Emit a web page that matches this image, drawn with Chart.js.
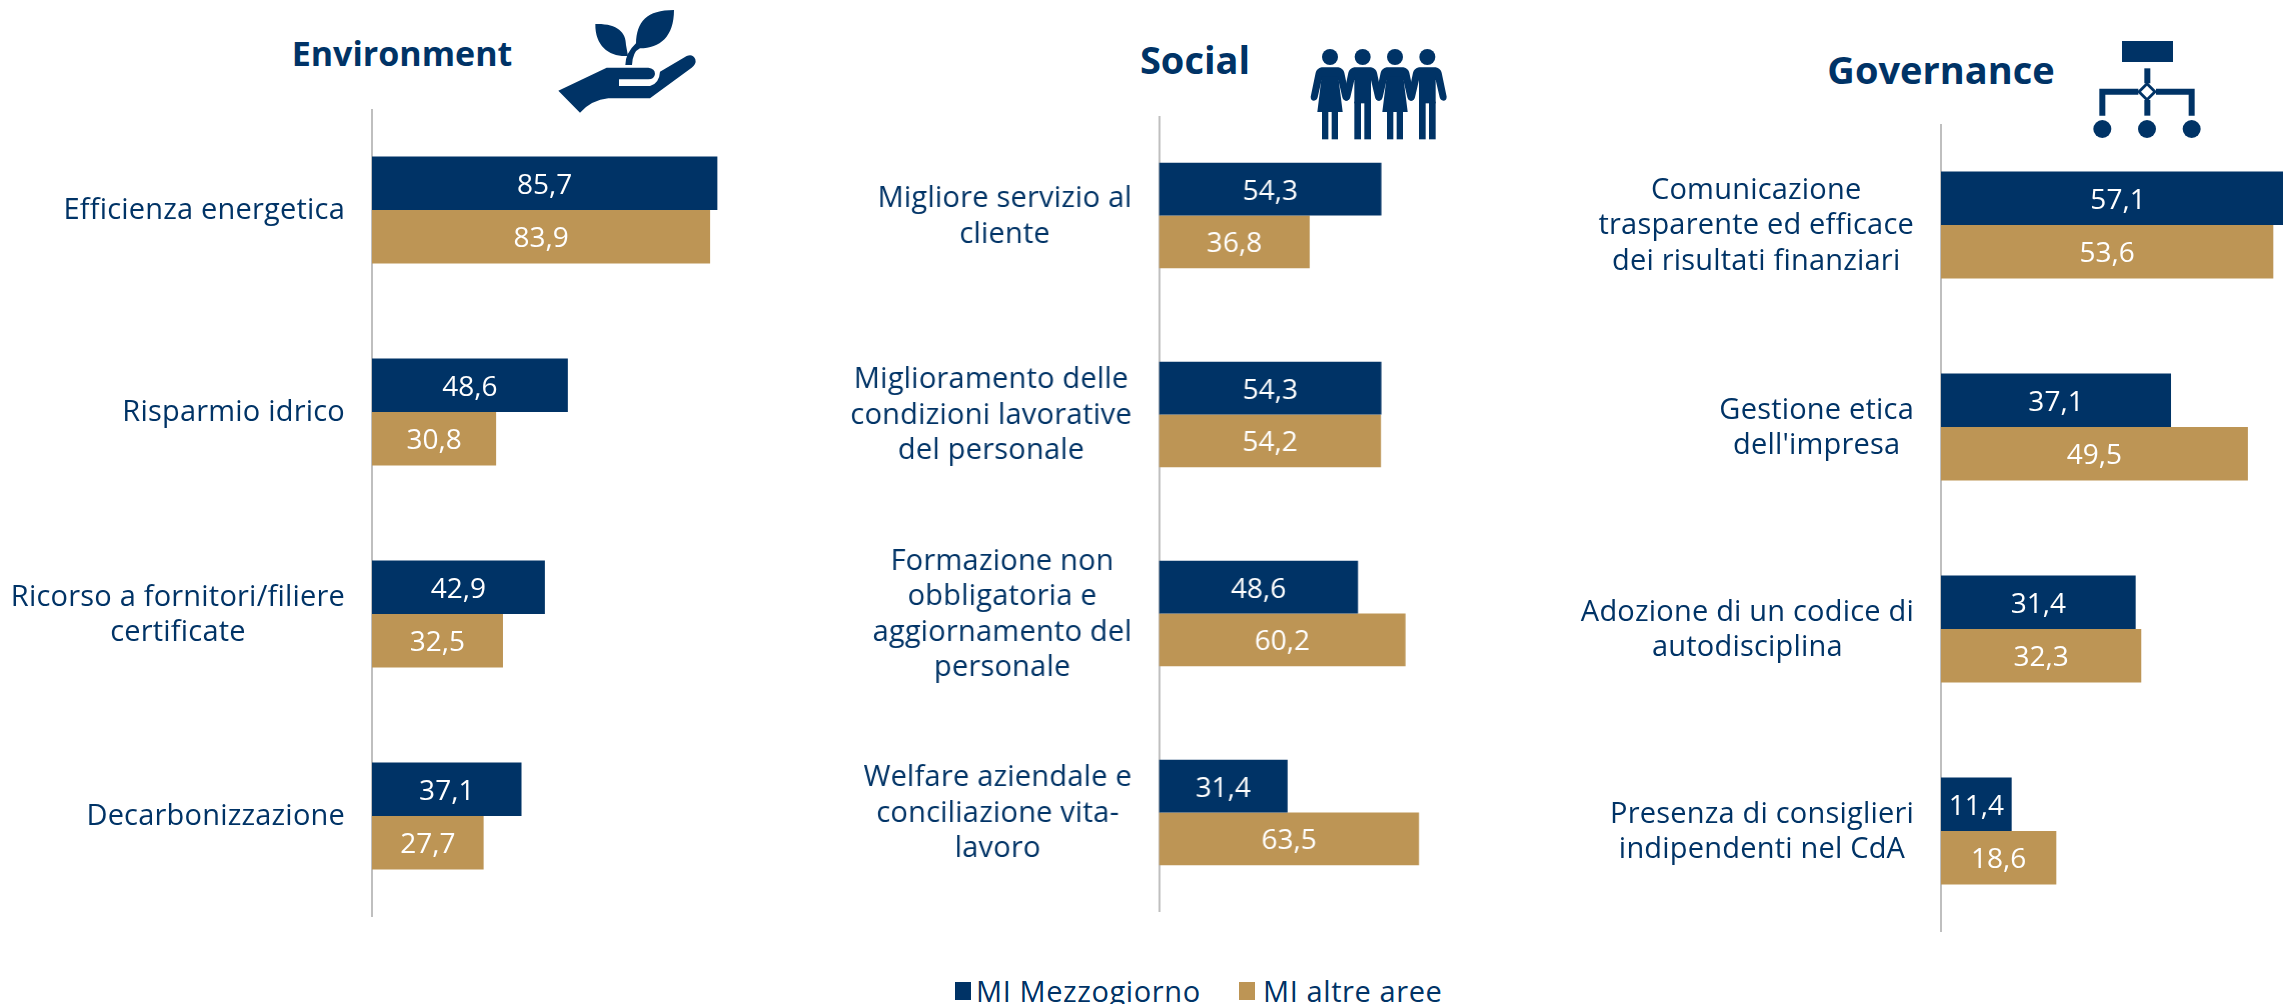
<!DOCTYPE html>
<html>
<head>
<meta charset="utf-8">
<script src="https://cdn.jsdelivr.net/npm/chart.js@4"></script>
<style>
  html, body { margin: 0; padding: 0; background: #fff; }
  body { position: relative; width: 2283px; height: 1004px; overflow: hidden; font-family: "Open Sans", sans-serif; color: #003366; }
  .panel { position: absolute; }
  .title { position: absolute; font-weight: 700; line-height: 40px; transform: translateX(-50%); white-space: nowrap; }
  .icon { position: absolute; }
  .legend-item { position: absolute; top: 974px; font-size: 29px; letter-spacing: 0.6px; line-height: 34px; white-space: nowrap; }
  .legend-box { position: absolute; width: 16px; height: 18px; top: 982px; }
</style>
</head>
<body>

<div class="title" style="left:402px;top:33px;font-size:34px">Environment</div>
<div class="title" style="left:1195px;top:39px;font-size:38px">Social</div>
<div class="title" style="left:1941px;top:49px;font-size:38px">Governance</div>

<!-- hand -->
<svg class="icon" style="left:540px;top:0" width="220" height="130" viewBox="0 0 660 390" fill="#003366">
  <path d="M55 272 L200 203 L325 203 Q345 205 345 222 Q343 238 325 238 L237 238 L237 258 L330 258 Q358 250 360 215 L440 168 Q458 160 466 178 Q470 192 455 203 L330 295 L205 295 Q155 300 120 338 Z"/>
  <path d="M166 72 C230 70 258 95 258 135 L264 168 C210 172 165 140 166 72 Z"/>
  <path d="M402 30 C402 110 360 145 300 145 Q278 155 276 195 L256 195 Q256 160 288 130 C290 65 320 30 402 30 Z"/>
</svg>

<!-- people -->
<svg class="icon" style="left:1280px;top:20px" width="200" height="130" viewBox="0 0 600 390" fill="#003366">
  <defs>
    <g id="arms">
      <circle cx="0" cy="111" r="24"/>
      <path d="M-25 142 L25 142 Q40 146 43 158 L58 230 Q58 242 48 242 Q40 242 37 232 L25 180 L-25 180 L-37 232 Q-40 242 -48 242 Q-58 242 -58 230 L-43 158 Q-40 146 -25 142 Z"/>
    </g>
    <g id="woman">
      <use href="#arms"/>
      <path d="M-25 170 L25 170 L38 276 L-38 276 Z"/>
      <rect x="-24" y="270" width="19" height="88"/>
      <rect x="5" y="270" width="19" height="88"/>
    </g>
    <g id="man">
      <use href="#arms"/>
      <rect x="-25" y="170" width="50" height="80"/>
      <rect x="-25" y="245" width="20" height="113"/>
      <rect x="5" y="245" width="20" height="113"/>
    </g>
  </defs>
  <use href="#woman" x="150"/>
  <use href="#man" x="248"/>
  <use href="#woman" x="345"/>
  <use href="#man" x="442"/>
</svg>

<!-- org chart -->
<svg class="icon" style="left:2060px;top:20px" width="223" height="130" viewBox="0 0 669 390" fill="#003366">
  <rect x="186" y="63" width="153" height="63"/>
  <rect x="253" y="145" width="18" height="45"/>
  <rect x="253" y="240" width="18" height="47"/>
  <path d="M127 287 L127 215 L235 215 M288 215 L395 215 L395 287" fill="none" stroke="#003366" stroke-width="18"/>
  <path d="M261 185 L291 215 L261 245 L231 215 Z"/>
  <path d="M261 197 L279 215 L261 233 L243 215 Z" fill="#fff"/>
  <circle cx="127" cy="327" r="27"/>
  <circle cx="261" cy="327" r="27"/>
  <circle cx="395" cy="327" r="27"/>
</svg>

<div id="panels"></div>
<div class="legend-box" style="left:955px;background:#003366"></div>
<div class="legend-item" id="legendA" style="left:976px"></div>
<div class="legend-box" style="left:1239px;background:#BD9555"></div>
<div class="legend-item" id="legendB" style="left:1263px"></div>

<script>
const seriesNames = ["MI Mezzogiorno", "MI altre aree"];
const navy = "#003366";
const gold = "#BD9555";

const envLabels = [
  ["Efficienza energetica"],
  ["Risparmio idrico"],
  ["Ricorso a fornitori/filiere", "certificate"],
  ["Decarbonizzazione"],
];
const envMezzogiorno = [85.7, 48.6, 42.9, 37.1];
const envAltre = [83.9, 30.8, 32.5, 27.7];

const socLabels = [
  ["Migliore servizio al", "cliente"],
  ["Miglioramento delle", "condizioni lavorative", "del personale"],
  ["Formazione non", "obbligatoria e", "aggiornamento del", "personale"],
  ["Welfare aziendale e", "conciliazione vita-", "lavoro"],
];
const socMezzogiorno = [54.3, 54.3, 48.6, 31.4];
const socAltre = [36.8, 54.2, 60.2, 63.5];

const govLabels = [
  ["Comunicazione", "trasparente ed efficace", "dei risultati finanziari"],
  ["Gestione etica", "dell'impresa"],
  ["Adozione di un codice di", "autodisciplina"],
  ["Presenza di consiglieri", "indipendenti nel CdA"],
];
const govMezzogiorno = [57.1, 37.1, 31.4, 11.4];
const govAltre = [53.6, 49.5, 32.3, 18.6];

// category text: each block ends at the same right edge, its lines centred on each other
const categoryLabels = {
  id: "categoryLabels",
  afterDraw(chart) {
    const ctx = chart.ctx;
    const y = chart.scales.y;
    const right = chart.chartArea.left - 27;
    ctx.save();
    ctx.font = '29px "Open Sans", sans-serif';
    ctx.letterSpacing = "0.2px";
    ctx.fillStyle = navy;
    ctx.textAlign = "center";
    ctx.textBaseline = "middle";
    chart.data.labels.forEach((lines, i) => {
      const widest = Math.max(...lines.map((l) => ctx.measureText(l).width));
      const top = y.getPixelForValue(i) + 1 - ((lines.length - 1) * 35.5) / 2;
      lines.forEach((l, n) => ctx.fillText(l, right - widest / 2, top + n * 35.5));
    });
    ctx.restore();
  },
};

// white value inside the bar, with decimal comma
const valueLabels = {
  id: "valueLabels",
  afterDatasetsDraw(chart) {
    const ctx = chart.ctx;
    const x = chart.scales.x;
    ctx.save();
    ctx.font = '28px "Open Sans", sans-serif';
    ctx.fillStyle = "#fff";
    ctx.textAlign = "center";
    ctx.textBaseline = "middle";
    chart.data.datasets.forEach((ds, d) => {
      chart.getDatasetMeta(d).data.forEach((bar, i) => {
        ctx.fillText(ds.data[i].toFixed(1).replace(".", ","), x.getPixelForValue(ds.data[i] / 2), bar.y + 2.5);
      });
    });
    ctx.restore();
  },
};

function makePanel(left, top, height, plotLeft, pxPerUnit, xMax, labels, a, b) {
  const width = plotLeft - left + xMax * pxPerUnit;
  const canvas = document.createElement("canvas");
  const holder = document.createElement("div");
  holder.className = "panel";
  holder.style.cssText = `left:${left}px;top:${top}px;width:${width}px;height:${height}px`;
  holder.appendChild(canvas);
  document.getElementById("panels").appendChild(holder);

  new Chart(canvas, {
    type: "bar",
    data: {
      labels: labels,
      datasets: [
        { label: seriesNames[0], data: a, backgroundColor: navy },
        { label: seriesNames[1], data: b, backgroundColor: gold },
      ],
    },
    options: {
      indexAxis: "y",
      responsive: true,
      maintainAspectRatio: false,
      animation: false,
      categoryPercentage: 0.53,
      barPercentage: 1,
      layout: { padding: { left: plotLeft - left, top: 0, right: 0, bottom: 0 } },
      plugins: { legend: { display: false }, tooltip: { enabled: false } },
      scales: {
        x: { display: false, min: 0, max: xMax },
        y: {
          grid: { display: false, drawTicks: false },
          ticks: { display: false, padding: 0 },
          border: { color: "#BFBFBF", width: 2 },
        },
      },
    },
    plugins: [categoryLabels, valueLabels],
  });
}

document.getElementById("legendA").textContent = seriesNames[0];
document.getElementById("legendB").textContent = seriesNames[1];

makePanel(0, 109, 808, 372, 4.03, 100, envLabels, envMezzogiorno, envAltre);
makePanel(780, 116, 796, 1158.5, 4.09, 100, socLabels, socMezzogiorno, socAltre);
makePanel(1500, 124, 808, 1941, 6.2, 90, govLabels, govMezzogiorno, govAltre);
</script>
</body>
</html>
